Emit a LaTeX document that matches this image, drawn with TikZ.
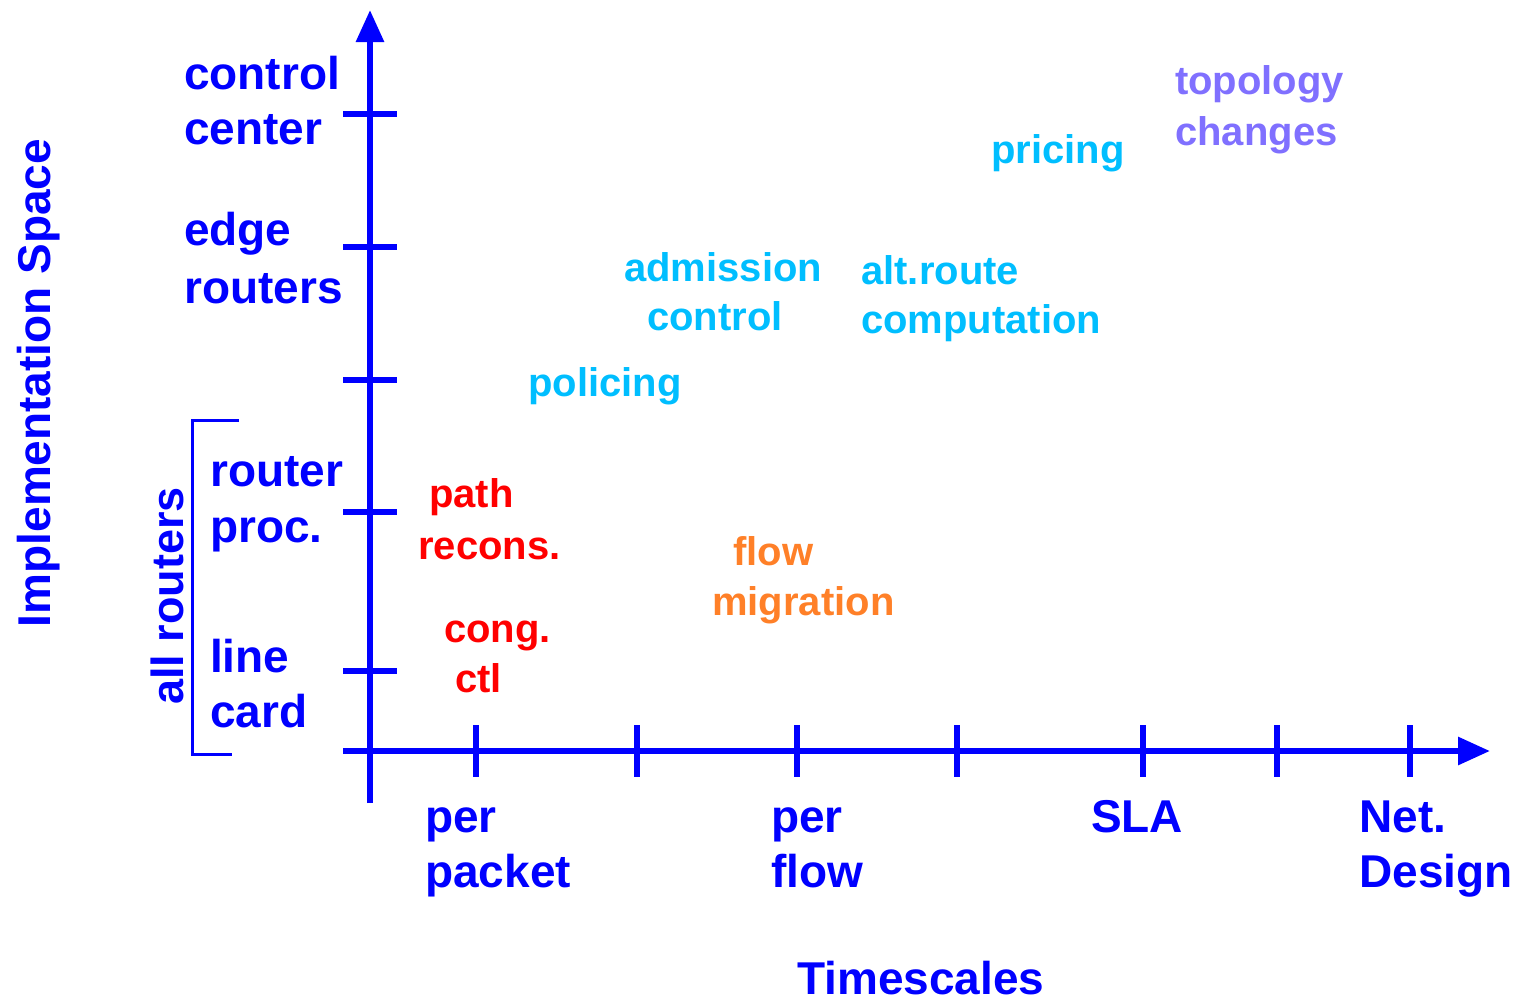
\documentclass[tikz,border=0pt]{standalone}
\usepackage{fontspec}
\setmainfont{Liberation Sans}
\usetikzlibrary{arrows.meta}
\definecolor{axisblue}{RGB}{0,0,255}
\definecolor{lcyan}{RGB}{0,190,255}
\definecolor{lpurple}{RGB}{128,112,255}
\definecolor{lred}{RGB}{255,0,0}
\definecolor{lorange}{RGB}{255,128,40}
\begin{document}
\begin{tikzpicture}[x=1pt,y=-1pt,
  axis/.style={draw=axisblue,line width=6pt},
  tickline/.style={draw=axisblue,line width=6pt},
  big/.style={inner sep=0pt,anchor=base west,text=axisblue,font=\fontsize{46}{56}\selectfont\bfseries},
  small/.style={inner sep=0pt,anchor=base west,font=\fontsize{40}{49}\selectfont\bfseries},
  tip/.style={-{Triangle[length=32pt,width=27pt]}}]
\useasboundingbox (0,0) rectangle (1516,1001);
% axes
\coordinate (ybot) at (370,803);
\coordinate (ytop) at (370,10);
\coordinate (xleft) at (343,751);
\coordinate (xright) at (1490,751);
\draw[axis,tip,fill=axisblue] (ybot) -- (ytop);
\draw[axis,tip,fill=axisblue] (xleft) -- (xright);
% y ticks
\foreach \yy in {114,247,380,512,671}
  \draw[tickline] (343,\yy) -- (397,\yy);
% x ticks
\foreach \xx in {476,637,797,957,1143,1277,1410}
  \draw[tickline] (\xx,725) -- (\xx,777);
% bracket
\draw[axisblue,line width=3pt] (239,420) -- (192,420) -- (192,754) -- (232,754);
% y labels
\node[big] (cc1) at (184,89) {control};
\node[big] (cc2) at (184,144) {center};
\node[big] (er1) at (184,245) {edge};
\node[big] (er2) at (184,303) {routers};
\node[big] (rp1) at (210,486) {router};
\node[big] (rp2) at (210,542) {proc.};
\node[big] (lc1) at (210,672) {line};
\node[big] (lc2) at (210,727) {card};
\node[inner sep=0pt,anchor=base,rotate=90,text=axisblue,font=\fontsize{45}{54}\selectfont\bfseries] (allr) at (183,596) {all routers};
\node[inner sep=0pt,anchor=base,rotate=90,text=axisblue,font=\fontsize{46}{56}\selectfont\bfseries] (impl) at (50,383) {Implementation Space};
% x labels
\node[big] (pp1) at (425,832) {per};
\node[big] (pp2) at (425,887) {packet};
\node[big] (pf1) at (771,832) {per};
\node[big] (pf2) at (771,887) {flow};
\node[big] (sla) at (1091,832) {SLA};
\node[big] (nd1) at (1359,832) {Net.};
\node[big] (nd2) at (1359,887) {Design};
\node[big] (ts) at (797,994) {Timescales};
% colored items
\node[small,text=lcyan] (ac1) at (624,281) {admission};
\node[small,text=lcyan] (ac2) at (647,330) {control};
\node[small,text=lcyan] (pol) at (528,396) {policing};
\node[small,text=lcyan] (pri) at (991,163) {pricing};
\node[small,text=lcyan] (ar1) at (861,284) {alt.route};
\node[small,text=lcyan] (ar2) at (861,333) {computation};
\node[small,text=lpurple] (tc1) at (1175,94) {topology};
\node[small,text=lpurple] (tc2) at (1175,145) {changes};
\node[small,text=lred] (pr1) at (429,507) {path};
\node[small,text=lred] (pr2) at (418,559) {recons.};
\node[small,text=lred] (cg1) at (444,642) {cong.};
\node[small,text=lred] (cg2) at (455,692) {ctl};
\node[small,text=lorange] (fm1) at (733,565) {flow};
\node[small,text=lorange] (fm2) at (712,615) {migration};
\end{tikzpicture}
\end{document}
